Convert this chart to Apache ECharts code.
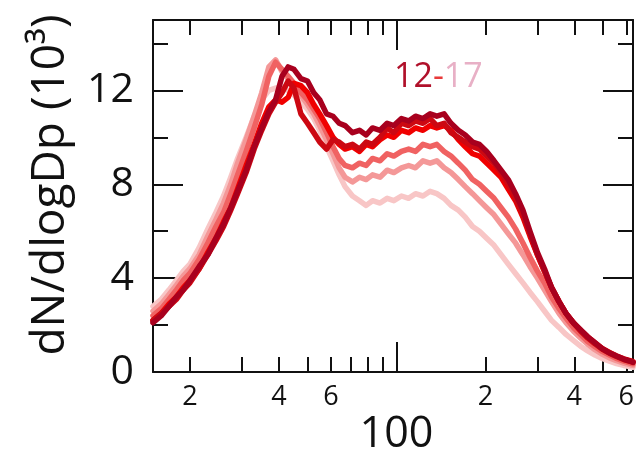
<!DOCTYPE html>
<html>
<head>
<meta charset="utf-8">
<style>
  html, body { margin: 0; padding: 0; background: #fff; }
  #chart { width: 637px; height: 455px; }
</style>
<script src="https://cdn.jsdelivr.net/npm/echarts@6/dist/echarts.min.js"></script>
</head>
<body>
<div id="chart"></div>
<script>
// Particle diameter Dp (nm), shared by all size distributions
const diam = [15, 16, 17, 18, 19, 20, 21.5, 23, 24.5, 26, 27.5, 29,
  31, 33, 35, 37, 39, 41, 43, 45, 47.5, 50, 52.5, 55,
  58, 61, 64, 67, 71, 75, 79, 83, 88, 93, 98, 104,
  110, 116, 123, 130, 137, 145, 153, 162, 171, 181, 191, 202,
  214, 226, 239, 253, 268, 283, 300, 317, 335, 355, 375, 397,
  420, 444, 470, 497, 526, 556, 588, 622, 632];

// dN/dlogDp (10^3) for periods 12 .. 17
const s12 = [2.1, 2.4, 2.8, 3.2, 3.5, 3.9, 4.5, 5.0, 5.7, 6.3, 7.0, 7.7,
  8.6, 9.6, 10.4, 11.1, 11.6, 12.6, 13.0, 12.9, 12.5, 12.4, 11.9, 11.6,
  11.0, 10.9, 10.6, 10.5, 10.2, 10.3, 10.1, 10.4, 10.3, 10.6, 10.5, 10.8,
  10.7, 10.9, 10.8, 11.0, 10.9, 11.0, 10.6, 10.3, 10.1, 9.8, 9.7, 9.4,
  9.0, 8.6, 8.2, 7.6, 6.9, 6.0, 5.1, 4.4, 3.6, 3.0, 2.5, 2.1,
  1.8, 1.5, 1.25, 1.0, 0.82, 0.68, 0.55, 0.45, 0.42];
const s13 = [2.2, 2.5, 2.8, 3.1, 3.5, 3.8, 4.4, 5.0, 5.6, 6.2, 6.9, 7.6,
  8.5, 9.5, 10.3, 11.0, 11.5, 11.9, 12.4, 12.1, 11.0, 10.6, 10.2, 9.8,
  9.5, 9.9, 9.8, 9.6, 9.7, 9.5, 9.8, 9.7, 10.0, 10.4, 10.2, 10.6,
  10.5, 10.7, 10.6, 10.8, 10.5, 10.6, 10.2, 10.0, 9.8, 9.6, 9.5, 9.2,
  8.9, 8.5, 8.0, 7.4, 6.7, 5.9, 5.0, 4.3, 3.6, 3.0, 2.5, 2.1,
  1.75, 1.45, 1.2, 0.98, 0.8, 0.66, 0.53, 0.44, 0.41];
const s14 = [2.2, 2.5, 2.9, 3.2, 3.6, 3.9, 4.4, 5.1, 5.7, 6.4, 7.0, 7.8,
  8.8, 9.7, 10.6, 11.3, 11.6, 11.5, 11.7, 12.3, 12.2, 11.9, 11.4, 11.0,
  10.5, 10.0, 9.7, 9.5, 9.6, 9.4, 9.7, 9.6, 9.9, 10.1, 10.0, 10.3,
  10.2, 10.4, 10.3, 10.5, 10.4, 10.5, 10.3, 9.9, 9.6, 9.3, 9.2, 8.9,
  8.6, 8.3, 7.8, 7.3, 6.6, 5.8, 5.0, 4.3, 3.6, 3.0, 2.5, 2.1,
  1.78, 1.5, 1.24, 1.0, 0.83, 0.68, 0.56, 0.47, 0.44];
const s15 = [2.4, 2.7, 3.1, 3.5, 3.9, 4.2, 4.8, 5.5, 6.2, 6.8, 7.6, 8.4,
  9.4, 10.4, 11.4, 12.6, 13.2, 12.9, 12.6, 12.3, 11.9, 11.6, 11.2, 10.8,
  10.2, 9.6, 9.1, 8.8, 8.7, 8.9, 8.8, 9.1, 9.0, 9.3, 9.2, 9.4,
  9.5, 9.4, 9.7, 9.6, 9.7, 9.4, 9.2, 8.9, 8.6, 8.2, 8.0, 7.7,
  7.4, 7.0, 6.6, 6.1, 5.5, 4.9, 4.3, 3.8, 3.2, 2.7, 2.3, 1.9,
  1.6, 1.3, 1.08, 0.88, 0.72, 0.58, 0.46, 0.37, 0.35];
const s16 = [2.6, 2.9, 3.3, 3.7, 4.1, 4.4, 5.0, 5.8, 6.5, 7.2, 8.0, 8.9,
  9.9, 10.9, 11.9, 13.0, 13.3, 12.8, 12.5, 12.2, 11.8, 11.4, 11.0, 10.5,
  9.9, 9.3, 8.7, 8.3, 8.1, 8.3, 8.2, 8.4, 8.3, 8.6, 8.5, 8.7,
  8.8, 8.7, 9.0, 8.9, 9.0, 8.7, 8.5, 8.2, 7.9, 7.6, 7.3, 7.0,
  6.7, 6.3, 5.9, 5.5, 5.0, 4.5, 4.0, 3.5, 3.0, 2.5, 2.1, 1.75,
  1.45, 1.18, 0.95, 0.76, 0.6, 0.48, 0.38, 0.3, 0.28];
const s17 = [2.8, 3.1, 3.5, 3.9, 4.3, 4.6, 5.3, 6.1, 6.8, 7.5, 8.3, 9.1,
  10.0, 10.9, 11.6, 12.0, 12.1, 12.1, 12.0, 11.8, 11.5, 11.2, 10.8, 10.3,
  9.6, 9.0, 8.4, 7.9, 7.5, 7.3, 7.1, 7.3, 7.2, 7.4, 7.3, 7.5,
  7.4, 7.6, 7.5, 7.7, 7.6, 7.4, 7.1, 6.9, 6.6, 6.2, 6.0, 5.7,
  5.4, 5.0, 4.6, 4.2, 3.8, 3.4, 3.0, 2.6, 2.2, 1.9, 1.6, 1.35,
  1.1, 0.9, 0.72, 0.58, 0.46, 0.36, 0.28, 0.22, 0.2];

const periodNames = ['12', '13', '14', '15', '16', '17'];
const periodValues = [s12, s13, s14, s15, s16, s17];

// Axis ticks and labels
const xMinorTicks = [20, 30, 40, 50, 60, 70, 80, 90, 200, 300, 400, 500, 600];
const xMinorLabels = [20, 40, 60, 200, 400, 600];
const xMajorTicks = [100];
const yMajorTicks = [0, 4, 8, 12];
const yMinorTicks = [2, 6, 10, 14];

const lineColors = ['#a8001e', '#cc0812', '#f00000', '#f06262', '#f49898', '#f8c6c6'];
const FONT = 'Open Sans';
const INK = '#111';

const chart = echarts.init(document.getElementById('chart'), null, { renderer: 'canvas' });

function xAxisDef(position, ticks, labels, tickLen, showLine, labelOpts) {
  return {
    type: 'log', logBase: 10, min: 15, max: 632, position: position,
    axisLine: { show: showLine, onZero: false, lineStyle: { color: INK, width: 2 } },
    axisTick: { show: true, inside: true, length: tickLen, customValues: ticks,
      lineStyle: { color: INK, width: 2 } },
    axisLabel: labelOpts ? Object.assign({ customValues: labels, color: INK, fontFamily: FONT }, labelOpts)
      : { show: false },
    minorTick: { show: false }, splitLine: { show: false }, minorSplitLine: { show: false }
  };
}
function yAxisDef(position, ticks, tickLen, showLine, labelOpts) {
  return {
    type: 'value', min: 0, max: 15, position: position,
    axisLine: { show: showLine, onZero: false, lineStyle: { color: INK, width: 2 } },
    axisTick: { show: true, inside: true, length: tickLen, customValues: ticks,
      lineStyle: { color: INK, width: 2 } },
    axisLabel: labelOpts ? Object.assign({ customValues: ticks, color: INK, fontFamily: FONT }, labelOpts)
      : { show: false },
    splitLine: { show: false }
  };
}

const leadDigit = v => String(Math.round(v / Math.pow(10, Math.floor(Math.log10(v) + 1e-9))));

const option = {
  backgroundColor: '#fff',
  animation: false,
  grid: { left: 153, right: 4, top: 20, bottom: 83, containLabel: false, outerBoundsMode: 'none' },
  xAxis: [
    xAxisDef('bottom', xMinorTicks, xMinorLabels, 15, true,
      { fontSize: 27, margin: 12, formatter: leadDigit }),
    xAxisDef('bottom', xMajorTicks, xMajorTicks, 30, false,
      { fontSize: 43, margin: 41, formatter: v => String(Math.round(v)) }),
    xAxisDef('top', xMinorTicks, null, 15, true, null),
    xAxisDef('top', xMajorTicks, null, 30, false, null)
  ],
  yAxis: [
    yAxisDef('left', yMajorTicks, 30, true, { fontSize: 41, margin: 19 }),
    yAxisDef('left', yMinorTicks, 15, false, null),
    yAxisDef('right', yMajorTicks, 30, true, null),
    yAxisDef('right', yMinorTicks, 15, false, null)
  ],
  graphic: [
    {
      type: 'text', x: 51, y: 185, rotation: Math.PI / 2,
      style: { text: 'dN/dlogDp (10³)', fontFamily: FONT, fontSize: 46, fill: INK,
        align: 'center', verticalAlign: 'middle' }
    },
    {
      type: 'text', x: 394, y: 77,
      style: {
        text: '{a|12}{b|-}{c|17}', verticalAlign: 'middle', align: 'left',
        rich: {
          a: { fontFamily: FONT, fontSize: 34, fill: '#b0102a' },
          b: { fontFamily: FONT, fontSize: 34, fill: '#e83a3a' },
          c: { fontFamily: FONT, fontSize: 34, fill: '#e8b0c6' }
        }
      }
    }
  ],
  series: periodNames.map((name, i) => ({
    name: name, type: 'line', xAxisIndex: 0, yAxisIndex: 0,
    data: diam.map((d, k) => [d, periodValues[i][k]]),
    showSymbol: false, smooth: false, clip: true,
    z: 10 - i,
    lineStyle: { color: lineColors[i], width: 5.5, join: 'round', cap: 'round' }
  })).reverse()
};

chart.setOption(option);
</script>
</body>
</html>
